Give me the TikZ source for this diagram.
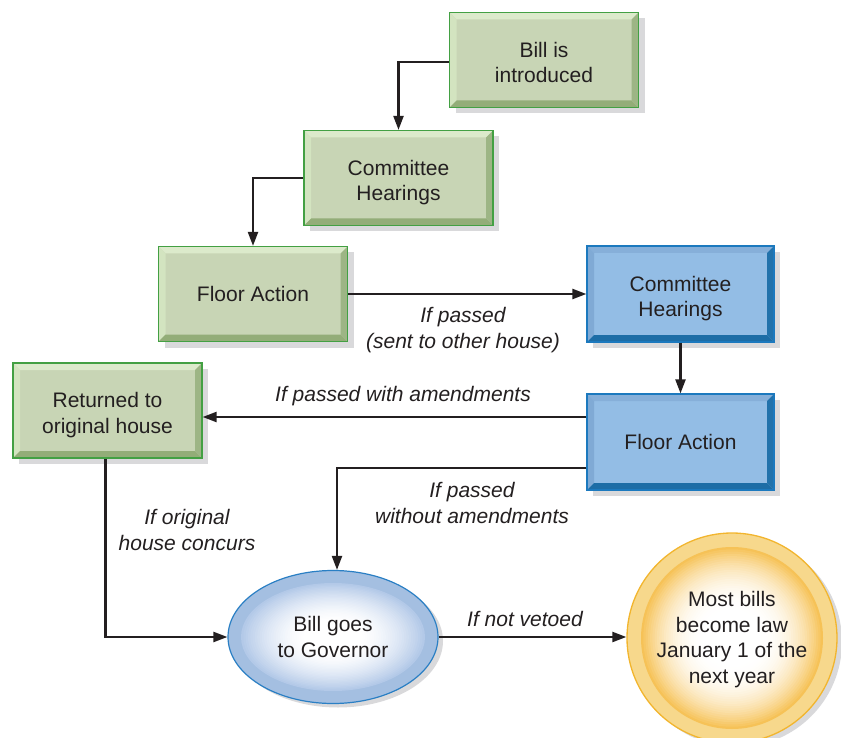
\documentclass[tikz,border=0pt]{standalone}
\usepackage{fontspec}
\setmainfont{Liberation Sans}
\usetikzlibrary{arrows.meta,shadows,shapes.geometric}
\definecolor{txt}{HTML}{231F20}
\definecolor{gface}{HTML}{C8D5B5}
\definecolor{gtop}{HTML}{DCEACB}
\definecolor{gleft}{HTML}{D3E4C0}
\definecolor{gbot}{HTML}{93AD78}
\definecolor{gright}{HTML}{9DB585}
\definecolor{gborder}{HTML}{43A043}
\definecolor{bface}{HTML}{93BDE5}
\definecolor{btop}{HTML}{86AFD9}
\definecolor{bleft}{HTML}{80AAD5}
\definecolor{bbot}{HTML}{1D6DA6}
\definecolor{bright}{HTML}{2272AB}
\definecolor{bborder}{HTML}{1C79BE}
\definecolor{shadowc}{HTML}{D9D9DB}
\definecolor{erim}{HTML}{A4BFE1}
\definecolor{eedge}{HTML}{B3C9E8}
\definecolor{eborder}{HTML}{2A7FC4}
\definecolor{crim}{HTML}{F7D88C}
\definecolor{cedge}{HTML}{F6C257}
\definecolor{cborder}{HTML}{F2B52E}
\newcommand\fs{\fontsize{21}{25.5}\selectfont}
\newcommand\twoline[2]{\raisebox{-5pt}[\height][\depth]{\begin{tabular}{@{}c@{}}#1\\#2\end{tabular}}}
\newcommand\bevels[4]{%
 \fill[#1] (path picture bounding box.north west) -- (path picture bounding box.north east) -- ([xshift=-7pt,yshift=-7pt]path picture bounding box.north east) -- ([xshift=7pt,yshift=-7pt]path picture bounding box.north west) -- cycle;
 \fill[#2] (path picture bounding box.north west) -- ([xshift=7pt,yshift=-7pt]path picture bounding box.north west) -- ([xshift=7pt,yshift=7pt]path picture bounding box.south west) -- (path picture bounding box.south west) -- cycle;
 \fill[#3] (path picture bounding box.south west) -- ([xshift=7pt,yshift=7pt]path picture bounding box.south west) -- ([xshift=-7pt,yshift=7pt]path picture bounding box.south east) -- (path picture bounding box.south east) -- cycle;
 \fill[#4] (path picture bounding box.south east) -- ([xshift=-7pt,yshift=7pt]path picture bounding box.south east) -- ([xshift=-7pt,yshift=-7pt]path picture bounding box.north east) -- (path picture bounding box.north east) -- cycle;}
\newcommand\gradfill[5]{%
 \foreach \i in {0,...,40}{%
  \pgfmathsetmacro\f{1-\i/40}%
  \pgfmathsetmacro\p{100*(max(0,min(1,(\f-#4)/(1-#4))))^#5}%
  \fill[#1!\p!white] (path picture bounding box.center) ellipse ({#2*\f} and {#3*\f});}}
\begin{document}
\begin{tikzpicture}[x=1pt,y=-1pt,
  boxbase/.style={rectangle, line width=1.2pt, minimum width=189pt, minimum height=95pt,
    inner sep=0pt, align=center, font=\fs, text=txt,
    drop shadow={shadow xshift=6pt, shadow yshift=-6pt, fill=shadowc, opacity=1}},
  gbox/.style={boxbase, draw=gborder, fill=gface, path picture={\bevels{gtop}{gleft}{gbot}{gright}}},
  bbox/.style={boxbase, draw=bborder, fill=bface, path picture={\bevels{btop}{bleft}{bbot}{bright}}},
  arr/.style={draw=txt, line width=2.2pt, -{Triangle[length=14pt,width=10pt]}},
  lbl/.style={font=\fs\itshape, align=center, text=txt, inner sep=0pt}]
\useasboundingbox (0,0) rectangle (841,738);
% boxes
\node[gbox] (bill) at (544,60) {\twoline{Bill is}{introduced}};
\node[gbox] (comm1) at (398.5,178) {\twoline{Committee}{Hearings}};
\node[gbox] (floor1) at (253,294) {Floor Action};
\node[bbox, minimum width=187pt, minimum height=96pt] (comm2) at (680.5,294) {\twoline{Committee}{Hearings}};
\node[bbox, minimum width=187pt, minimum height=96pt] (floor2) at (680.5,442) {Floor Action};
\node[gbox] (ret) at (107.5,410.5) {\twoline{Returned to}{original house}};
% ellipse
\node[ellipse, minimum width=210pt, minimum height=133pt, inner sep=0pt, fill=erim,
  draw=eborder, line width=1.2pt, align=center, font=\fs, text=txt,
  drop shadow={shadow xshift=5pt, shadow yshift=-4pt, fill=shadowc, opacity=1},
  path picture={\gradfill{eedge}{92}{54}{0.3}{1.6}}] (gov) at (333,637) {Bill goes\\to Governor};
% circle
\node[circle, minimum size=210pt, inner sep=0pt, fill=crim, draw=cborder, line width=1.3pt,
  align=center, font=\fs, text=txt,
  drop shadow={shadow xshift=5pt, shadow yshift=-4pt, fill=shadowc, opacity=1},
  path picture={\gradfill{cedge}{91}{91}{0.3}{2.2}}] (law) at (732,638) {\raisebox{-2pt}[\height][\depth]{\begin{tabular}{@{}c@{}}Most bills\\become law\\January 1 of the\\next year\end{tabular}}};
% connectors
\draw[arr] ([yshift=-2pt]bill.west) -| (comm1.north);
\draw[arr] (comm1.west) -| (floor1.north);
\draw[arr] (floor1.east) -- (comm2.west);
\draw[arr] (comm2.south) -- (floor2.north);
\draw[arr] ([yshift=25pt]floor2.west) -- ([yshift=25pt]floor2.west -| ret.east);
\draw[arr] ([yshift=-26pt]floor2.west) -| ([xshift=4pt]gov.north);
\draw[arr] ([xshift=-2pt]ret.south) |- (gov.west);
\draw[arr] (gov.east) -- (gov.east -| law.west);
% labels
\node[lbl] (l1) at (463,330) {If passed\\(sent to other house)};
\node[lbl] (l2) at (403,396) {If passed with amendments};
\node[lbl] (l3) at (472,503) {If passed\\without amendments};
\node[lbl] (l4) at (187,530) {If original\\house concurs};
\node[lbl] (l5) at (525,619) {If not vetoed};
\end{tikzpicture}
\end{document}
